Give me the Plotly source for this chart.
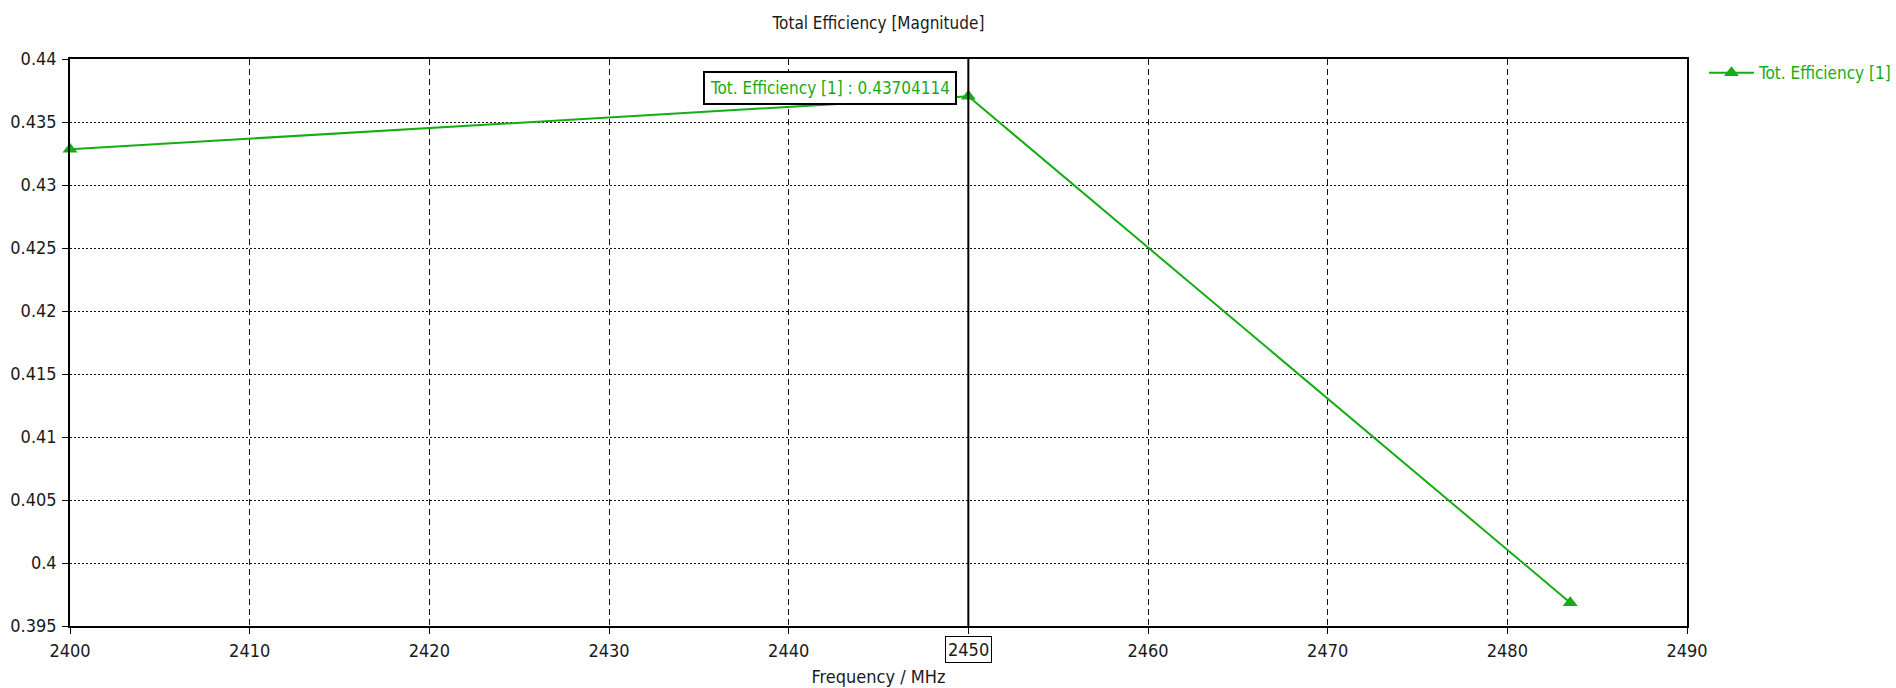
import plotly.graph_objects as go

freq_mhz = [2400, 2450, 2483.5]
tot_eff = [0.43284, 0.43704114, 0.39685]
series_name = "Tot. Efficiency [1]"
title_text = "Total Efficiency [Magnitude]"
x_label = "Frequency / MHz"
marker_freq = 2450
marker_value = 0.43704114
x_ticks = [2400, 2410, 2420, 2430, 2440, 2450, 2460, 2470, 2480, 2490]
y_ticks = [0.395, 0.4, 0.405, 0.41, 0.415, 0.42, 0.425, 0.43, 0.435, 0.44]
y_ticktext = ["0.395", "0.4", "0.405", "0.41", "0.415", "0.42", "0.425", "0.43", "0.435", "0.44"]

GREEN = "#14ad14"
TXT = "#1a1a1a"
FONT = "Tahoma, 'DejaVu Sans Condensed', 'DejaVu Sans', sans-serif"

fig = go.Figure()
fig.add_trace(go.Scatter(
    x=freq_mhz, y=tot_eff, mode="lines+markers", name=series_name,
    line=dict(color=GREEN, width=2),
    marker=dict(symbol="triangle-up", size=13, color=GREEN),
    cliponaxis=False,
))

fig.add_shape(type="line", xref="x", yref="paper", x0=marker_freq, x1=marker_freq,
              y0=0, y1=1, line=dict(color="black", width=2))

fig.add_annotation(
    x=marker_freq, xref="x", y=0.9489, yref="paper", xanchor="right", yanchor="middle",
    xshift=-11, text=f"{series_name} : {marker_value:.8f}", showarrow=False,
    font=dict(family=FONT, size=17, color=GREEN), bgcolor="white",
    bordercolor="black", borderwidth=2, borderpad=5,
)
fig.add_annotation(
    x=marker_freq, xref="x", y=0, yref="paper", yshift=-23, xanchor="center", yanchor="middle",
    text=str(marker_freq), showarrow=False, font=dict(family=FONT, size=18, color=TXT),
    bgcolor="white", bordercolor="black", borderwidth=1, borderpad=2,
)

axis_common = dict(showline=True, linecolor="black", linewidth=1.5, mirror=True,
                   ticks="outside", ticklen=6, tickcolor="black", showgrid=True,
                   gridcolor="#111", gridwidth=1, zeroline=False, automargin=False,
                   tickfont=dict(family=FONT, size=18, color=TXT))

fig.update_xaxes(range=[2400, 2490], tickvals=x_ticks, griddash="6px,4px",
                 ticklabelstandoff=2,
                 title=dict(text=x_label, font=dict(family=FONT, size=18, color=TXT), standoff=10),
                 **axis_common)
fig.update_yaxes(range=[0.395, 0.44], tickvals=y_ticks, ticktext=y_ticktext, griddash="2px,2px",
                 ticklabelstandoff=2, **axis_common)

fig.update_layout(
    width=1896, height=688,
    margin=dict(l=70, r=209, t=59, b=62, autoexpand=False),
    plot_bgcolor="white", paper_bgcolor="white",
    title=dict(text=title_text, x=0.5, xref="paper", xanchor="center",
               y=1 - 23 / 688, yref="container", yanchor="middle",
               font=dict(family=FONT, size=17, color=TXT)),
    showlegend=True,
    legend=dict(x=1.0105, xanchor="left", y=0.975, yanchor="middle", itemwidth=45,
                font=dict(family=FONT, size=17, color=GREEN), bgcolor="rgba(0,0,0,0)"),
)

fig.write_html("out.html", config={"displayModeBar": False},
               post_script="document.body.style.margin='0';")
